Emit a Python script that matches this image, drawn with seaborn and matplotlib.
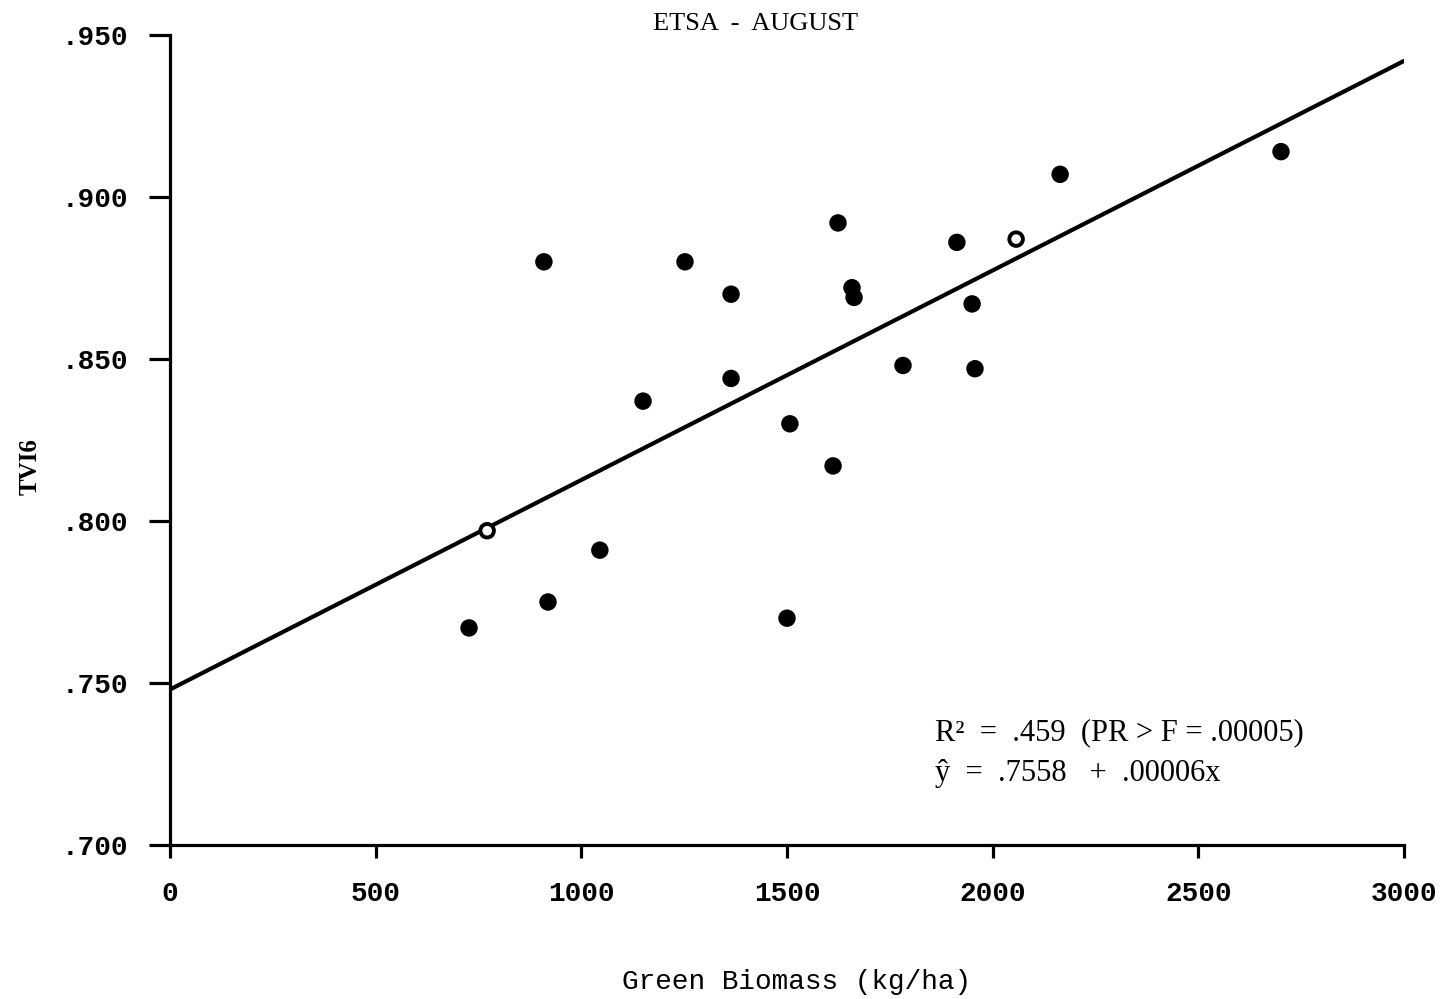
import numpy as np
import pandas as pd
import matplotlib
matplotlib.use("Agg")
import matplotlib.pyplot as plt
import seaborn as sns

# 数据
biomass = [727, 771, 909, 919, 1045, 1150, 1252, 1364, 1364, 1500, 1507,
           1612, 1624, 1658, 1663, 1782, 1913, 1950, 1957, 2057, 2164, 2701]
tvi6 = [0.767, 0.797, 0.880, 0.775, 0.791, 0.837, 0.880, 0.870, 0.844, 0.770, 0.830,
        0.817, 0.892, 0.872, 0.869, 0.848, 0.886, 0.867, 0.847, 0.887, 0.907, 0.914]
point_kind = ['filled', 'open', 'filled', 'filled', 'filled', 'filled', 'filled', 'filled',
              'filled', 'filled', 'filled', 'filled', 'filled', 'filled', 'filled', 'filled',
              'filled', 'filled', 'filled', 'open', 'filled', 'filled']

# 回归线端点
fit_x = [0, 3000]
fit_y = [0.748, 0.942]

x_ticks = [0, 500, 1000, 1500, 2000, 2500, 3000]
y_ticks = [0.700, 0.750, 0.800, 0.850, 0.900, 0.950]
y_tick_labels = ['.700', '.750', '.800', '.850', '.900', '.950']

title = 'ETSA  -  AUGUST'
x_label = 'Green Biomass (kg/ha)'
y_label = 'TVI6'
stats_lines = ['R²  =  .459  (PR > F = .00005)', 'ŷ  =  .7558   +  .00006x']

df = pd.DataFrame({'biomass': biomass, 'tvi6': tvi6, 'kind': point_kind})
fit_df = pd.DataFrame({'x': fit_x, 'y': fit_y})

sns.set_theme(style='ticks')
plt.rcParams['font.family'] = ['Liberation Mono', 'DejaVu Sans']

fig = plt.figure(figsize=(14.44, 9.99), dpi=100)
ax = fig.add_axes([170 / 1444, 1 - 845 / 999, 1234 / 1444, 810 / 999])

sns.lineplot(data=fit_df, x='x', y='y', ax=ax, color='black', linewidth=3.0)
sns.scatterplot(data=df, x='biomass', y='tvi6', hue='kind',
                palette={'filled': 'black', 'open': 'white'},
                edgecolor='black', linewidth=2.8, s=95, ax=ax, legend=False, zorder=3)

ax.set_xlim(0, 3000)
ax.set_ylim(0.7, 0.95)
ax.set_xticks(x_ticks)
ax.set_xticklabels([str(v) for v in x_ticks])
ax.set_yticks(y_ticks)
ax.set_yticklabels(y_tick_labels)

for side in ['top', 'right']:
    ax.spines[side].set_visible(False)
for side in ['left', 'bottom']:
    ax.spines[side].set_linewidth(2.3)
    ax.spines[side].set_color('black')

ax.tick_params(axis='y', length=15, width=2.3, pad=15, labelsize=20, colors='black')
ax.tick_params(axis='x', length=9, width=2.3, pad=17, labelsize=20, colors='black')
for lbl in ax.get_xticklabels() + ax.get_yticklabels():
    lbl.set_fontweight('bold')

ax.set_xlabel('')
ax.set_ylabel('')
fig.text(797 / 1444, 1 - 982 / 999, x_label, ha='center', va='center',
         fontsize=20, color='black', family=['Liberation Mono'])
fig.text(30 / 1444, 1 - 467 / 999, y_label, ha='center', va='center', rotation=90,
         fontsize=18, fontweight='bold', color='black', family=['Liberation Serif'])
fig.text(756 / 1444, 1 - 24 / 999, title, ha='center', va='center',
         fontsize=19, color='black', family=['Liberation Serif'])

ax.text(1860, 0.7346, stats_lines[0], ha='left', va='center', fontsize=22,
        color='black', family=['Liberation Serif'])
ax.text(1860, 0.7222, stats_lines[1], ha='left', va='center', fontsize=22,
        color='black', family=['Liberation Serif'])

fig.savefig('out.png', dpi=100, facecolor='white')
